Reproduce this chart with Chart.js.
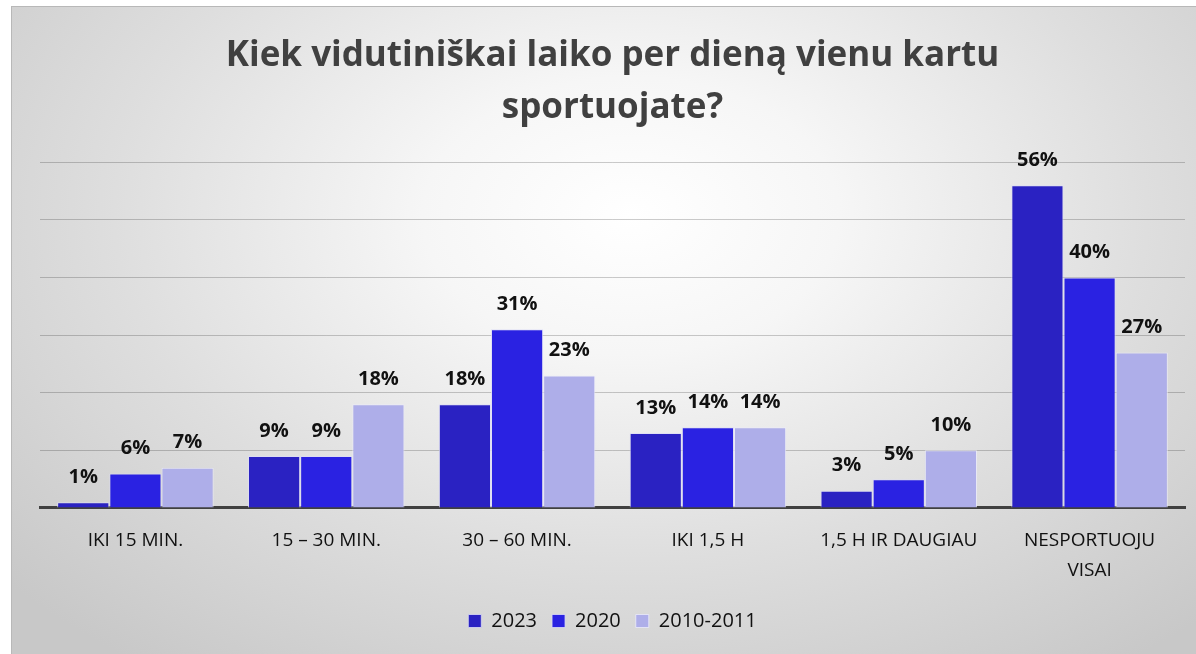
<!DOCTYPE html>
<html>
<head>
<meta charset="utf-8">
<script src="https://cdn.jsdelivr.net/npm/chart.js@4.4.1/dist/chart.umd.min.js"></script>
<style>
  html, body { margin: 0; padding: 0; background: #fff; }
  #frame {
    position: absolute; left: 11px; top: 6px; width: 1190px; height: 652px;
    border: 1px solid #b8b8b8;
    background: radial-gradient(ellipse 70% 85% at 52% 32%, #ffffff 0%, #f6f6f6 25%, #dedede 62%, #c8c8c8 100%);
  }
  #wrap { position: absolute; left: 0; top: 0; width: 1196px; height: 654px; }
</style>
</head>
<body>
<div id="frame"></div>
<div id="wrap"><canvas id="chart" width="1196" height="654"></canvas></div>
<script>
// Data
const categories = ['IKI 15 MIN.', '15 – 30 MIN.', '30 – 60 MIN.', 'IKI 1,5 H', '1,5 H IR DAUGIAU', ['NESPORTUOJU', 'VISAI']];
const series2023 = [1, 9, 18, 13, 3, 56];
const series2020 = [6, 9, 31, 14, 5, 40];
const series2010 = [7, 18, 23, 14, 10, 27];
const seriesNames = ['2023', '2020', '2010-2011'];

const FONT = "'Open Sans', sans-serif";

// Value labels above bars
const valueLabels = {
    id: 'valueLabels',
    afterDatasetsDraw(chart) {
        const ctx = chart.ctx;
        ctx.save();
        ctx.font = 'bold 20px ' + FONT;
        ctx.fillStyle = '#111';
        ctx.textAlign = 'center';
        ctx.textBaseline = 'middle';
        chart.data.datasets.forEach((ds, i) => {
            chart.getDatasetMeta(i).data.forEach((bar, j) => {
                ctx.fillText(ds.data[j] + '%', bar.x, bar.y - 25);
            });
        });
        ctx.restore();
    }
};

const ctx = document.getElementById('chart').getContext('2d');
new Chart(ctx, {
    type: 'bar',
    data: {
        labels: categories,
        datasets: [
            { label: seriesNames[0], data: series2023, backgroundColor: '#2a22c2', borderColor: 'rgba(220,220,245,0.8)', borderWidth: 1 },
            { label: seriesNames[1], data: series2020, backgroundColor: '#2a22e2', borderColor: 'rgba(220,220,245,0.8)', borderWidth: 1 },
            { label: seriesNames[2], data: series2010, backgroundColor: '#aeaee9', borderColor: 'rgba(235,235,250,0.8)', borderWidth: 1 }
        ]
    },
    options: {
        responsive: false,
        animation: false,
        layout: { padding: { left: 40, right: 11, top: 6, bottom: 13 } },
        datasets: { bar: { categoryPercentage: 0.82, barPercentage: 1.0 } },
        scales: {
            x: {
                grid: { display: false },
                border: { color: '#404040', width: 3 },
                ticks: { color: '#111', font: { family: FONT, size: 19, lineHeight: 1.58 }, padding: 10, maxRotation: 0, autoSkip: false }
            },
            y: {
                min: 0, max: 60,
                ticks: { display: false, stepSize: 10 },
                border: { display: false },
                grid: { color: 'rgba(0,0,0,0.2)', lineWidth: 1, drawTicks: false }
            }
        },
        plugins: {
            title: {
                display: true,
                text: ['Kiek vidutiniškai laiko per dieną vienu kartu', 'sportuojate?'],
                color: '#404040',
                font: { family: FONT, size: 35, weight: 'bold', lineHeight: 1.49 },
                padding: { top: 24, bottom: 28 }
            },
            legend: {
                position: 'bottom',
                labels: { color: '#111', font: { family: FONT, size: 20 }, boxWidth: 13, boxHeight: 13, padding: 15 }
            },
            tooltip: { enabled: false }
        }
    },
    plugins: [valueLabels]
});
</script>
</body>
</html>
